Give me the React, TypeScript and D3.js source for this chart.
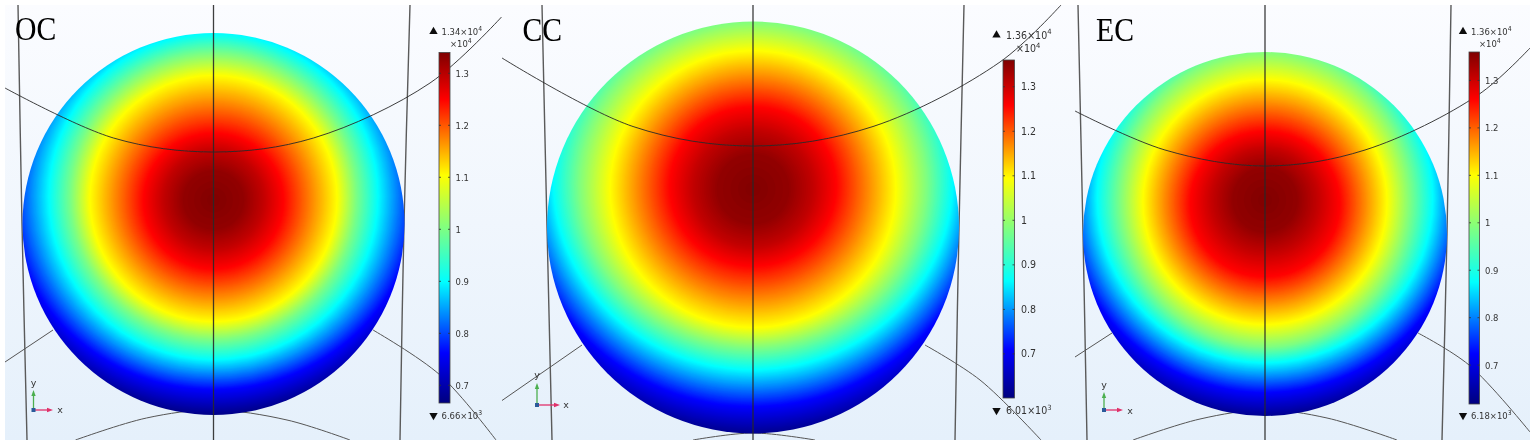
import React from "react";
import * as d3 from "d3";

// Colour map: share of the range -> colour
const mapStops = [0, 0.143, 0.346, 0.5, 0.65, 0.866, 1];
const mapColors = ["#00007f", "#0000ff", "#00ffff", "#80ff80", "#ffff00", "#ff0000", "#7f0000"];
const tickValues = [1.3, 1.2, 1.1, 1, 0.9, 0.8, 0.7];
const tickLabels = ["1.3", "1.2", "1.1", "1", "0.9", "0.8", "0.7"];

// OC: field level contours (value x 1e4) and their centres / half axes, in model units from the sphere centre
const ocLevels = [1.34, 1.328, 1.294, 1.25, 1.104, 1.0, 0.899, 0.762, 0.666];
const ocCentre = [24, 24, 24, 23, 25.5, 27.5, 27.5, 29, 29];
const ocRx = [0, 30, 50, 70, 124, 143, 165, 204, 230];
const ocRy = [0, 29, 49, 68, 123.5, 143.5, 163.5, 195, 222];
// CC
const ccLevels = [1.36, 1.346, 1.308, 1.258, 1.094, 0.98, 0.864, 0.71, 0.601];
const ccCentre = [38.5, 38.5, 39, 41, 38.5, 43, 47.5, 49.5, 49.5];
const ccRx = [0, 36, 60, 83.5, 143.5, 174, 200, 235, 265];
const ccRy = [0, 35, 58, 80, 139, 163.5, 190, 229, 260];
// EC
const ecLevels = [1.36, 1.347, 1.308, 1.26, 1.1, 0.989, 0.875, 0.724, 0.618];
const ecCentre = [34, 34, 33, 30, 32, 35, 36, 37, 37];
const ecRx = [0, 32, 53, 75, 122.5, 145, 168, 200, 230];
const ecRy = [0, 32, 52, 73, 123, 148, 165, 196, 223];

type P = [number, number];
// Mesh edges in model units
const ocBehind: P[][] = [
  [[-195.5, 219], [-191.5, 0], [-186.5, -216]],
  [[196.5, 219], [190.5, 0], [186.5, -216]],
  [[-208.5, -138], [-160.5, -106]],
  [[159.5, -106], [226.5, -151], [282.5, -216]],
  [[-138, -216], [-67, -194], [0, -186], [73.5, -196], [136.5, -216]],
];
const ocFront: P[][] = [
  [[0, 219], [0, -216]],
  [[-208.5, 136], [-100, 86], [0, 72], [100, 86], [216.5, 141], [288, 207]],
];
const ccBehind: P[][] = [
  [[-211, 222.5], [-206, 0], [-201, -212.5]],
  [[211, 222.5], [206, 0], [202, -212.5]],
  [[-251, -173], [-171, -117.5]],
  [[172, -117.5], [227, -152.5], [288, -212.5]],
  [[-60, -212.5], [0, -205.5], [62, -212.5]],
];
const ccFront: P[][] = [
  [[0, 222.5], [0, -212.5]],
  [[-251, 169.5], [-120, 101], [0, 81.5], [120, 101], [247, 165.5], [308, 222.5]],
];
const ecBehind: P[][] = [
  [[-187, 229], [-182, 0], [-178, -206]],
  [[186, 229], [182, 0], [177, -206]],
  [[-190, -123], [-153, -99]],
  [[153, -99], [204, -131], [265, -198]],
  [[-132, -206], [-65, -185], [0, -176], [62, -184], [132, -206]],
];
const ecFront: P[][] = [
  [[0, 229], [0, -206]],
  [[-190, 123], [-100, 84], [0, 68], [100, 84], [213, 139], [265, 186]],
];

const panels = [
  {
    id: "oc", title: "OC", titleX: 15, titleY: 40,
    px: [5, 502], cx: 213.5, cy: 224, r: 191,
    levels: ocLevels, centre: ocCentre, rx: ocRx, ry: ocRy, behind: ocBehind, front: ocFront,
    max: "1.34", min: "6.66", maxV: 1.34, minV: 0.666,
    bar: [439, 450, 52.5, 403], fs: 9.4, tsx: 0.9, topX: 441.5, topY: 35, unitX: 450, unitY: 47, botY: 419, triX: 433.5, labelX: 455.5,
    triad: [33.5, 410, 390, 53], labX: 60, labYy: 386, labXy: 413,
  },
  {
    id: "cc", title: "CC", titleX: 522.5, titleY: 40.5,
    px: [502, 1074], cx: 753, cy: 227.5, r: 206,
    levels: ccLevels, centre: ccCentre, rx: ccRx, ry: ccRy, behind: ccBehind, front: ccFront,
    max: "1.36", min: "6.01", maxV: 1.36, minV: 0.601,
    bar: [1003, 1014.5, 60, 398], fs: 10, tsx: 0.95, topX: 1006, topY: 38.5, unitX: 1016, unitY: 52, botY: 414, triX: 996.5, labelX: 1021,
    triad: [537, 405, 383, 560], labX: 566, labYy: 378, labXy: 408,
  },
  {
    id: "ec", title: "EC", titleX: 1096, titleY: 40.5,
    px: [1074, 1530], cx: 1265, cy: 234, r: 182,
    levels: ecLevels, centre: ecCentre, rx: ecRx, ry: ecRy, behind: ecBehind, front: ecFront,
    max: "1.36", min: "6.18", maxV: 1.36, minV: 0.618,
    bar: [1469, 1479.5, 52, 404], fs: 9.4, tsx: 0.9, topX: 1471, topY: 35, unitX: 1479, unitY: 47, botY: 419, triX: 1463, labelX: 1485,
    triad: [1104, 410, 392, 1123], labX: 1130, labYy: 388, labXy: 414,
  },
];

const colorAt = d3.scaleLinear<string>().domain(mapStops).range(mapColors).interpolate(d3.interpolateRgb);
const panelTop = 5;
const panelBottom = 440;
const bands = 260;
const font = "'DejaVu Sans'";

function Sci({ x, y, fs, sxk, text, exp }: { x: number; y: number; fs: number; sxk: number; text: string; exp: string }) {
  return (
    <text transform={`translate(${x},${y}) scale(${sxk},1)`} fontSize={fs} fontFamily={font} fill="#333">
      {text}
      <tspan dy={-fs * 0.42} fontSize={fs * 0.72}>{exp}</tspan>
    </text>
  );
}

function Panel({ p }: { p: (typeof panels)[number] }) {
  const sx = d3.scaleLinear().domain([-p.r, p.r]).range([p.cx - p.r, p.cx + p.r]);
  const sy = d3.scaleLinear().domain([-p.r, p.r]).range([p.cy + p.r, p.cy - p.r]);
  const line = d3.line<P>().x((d) => sx(d[0])).y((d) => sy(d[1])).curve(d3.curveCatmullRom.alpha(0.5));
  const share = d3.scaleLinear().domain([p.minV, p.maxV]).range([0, 1]).clamp(true);
  const cyAt = d3.scaleLinear().domain(p.levels).range(p.centre);
  const rxAt = d3.scaleLinear().domain(p.levels).range(p.rx);
  const ryAt = d3.scaleLinear().domain(p.levels).range(p.ry);
  const bandValues = d3.range(bands + 1).map((i) => p.minV + ((p.maxV - p.minV) * i) / bands);
  const [bx0, bx1, by0, by1] = p.bar;
  const barY = d3.scaleLinear().domain([p.maxV, p.minV]).range([by0, by1]);
  const [ox, oy, oTop, oRight] = p.triad;
  const tri = d3.symbol().type(d3.symbolTriangle).size(30)();
  return (
    <g>
      <defs>
        <linearGradient id={`bg-${p.id}`} x1="0" x2="0" y1="0" y2="1">
          <stop offset="0" stopColor="#fbfcff" />
          <stop offset="1" stopColor="#e5f0fb" />
        </linearGradient>
        <clipPath id={`panel-${p.id}`}>
          <rect x={p.px[0]} y={panelTop} width={p.px[1] - p.px[0]} height={panelBottom - panelTop} />
        </clipPath>
        <mask id={`sphere-${p.id}`} maskUnits="userSpaceOnUse" x={0} y={0} width={1535} height={445}>
          <circle cx={sx(0)} cy={sy(0)} r={p.r} fill="#fff" />
        </mask>
        <linearGradient id={`bar-${p.id}`} x1="0" x2="0" y1="1" y2="0">
          {mapStops.map((s, i) => (
            <stop key={s} offset={s} stopColor={mapColors[i]} />
          ))}
        </linearGradient>
      </defs>
      <rect x={p.px[0]} y={panelTop} width={p.px[1] - p.px[0]} height={panelBottom - panelTop} fill={`url(#bg-${p.id})`} />
      <g clipPath={`url(#panel-${p.id})`} fill="none">
        <g filter="url(#soft)">
          {p.behind.map((w, i) => (
            <path key={i} d={line(w)!} stroke={i < 2 ? "#5a5a5a" : "#555"} strokeWidth={i < 2 ? 1.4 : 1} />
          ))}
        </g>
        <g mask={`url(#sphere-${p.id})`} stroke="none">
          <rect x={sx(-p.r)} y={sy(p.r)} width={2 * p.r} height={2 * p.r} fill={colorAt(0)} />
          {bandValues.map((v) => (
            <ellipse key={v} cx={sx(0)} cy={sy(cyAt(v))} rx={rxAt(v)} ry={ryAt(v)} fill={colorAt(share(v))} />
          ))}
        </g>
        <g filter="url(#soft)">
          {p.front.map((w, i) => (
            <path key={i} d={line(w)!} stroke="#2a2a2a" strokeWidth={i === 0 ? 1.3 : 1} opacity={0.9} />
          ))}
        </g>
      </g>
      <rect x={bx0} y={by0} width={bx1 - bx0} height={by1 - by0} fill={`url(#bar-${p.id})`} stroke="#444" strokeWidth={0.8} />
      <g filter="url(#soft)">
        {tickValues.map((t, i) => (
          <g key={t}>
            <path d={`M${bx0},${barY(t)}h2M${bx1},${barY(t)}h-2`} stroke="#333" strokeWidth={0.8} />
            <text transform={`translate(${p.labelX},${barY(t) + 3.5}) scale(${p.tsx},1)`} fontSize={p.fs} fontFamily={font} fill="#333">{tickLabels[i]}</text>
          </g>
        ))}
        <path d={tri!} transform={`translate(${p.triX},${p.topY - 3.5})`} fill="#111" />
        <Sci x={p.topX} y={p.topY} fs={p.fs} sxk={p.tsx} text={`${p.max}×10`} exp="4" />
        <Sci x={p.unitX} y={p.unitY} fs={p.fs} sxk={p.tsx} text="×10" exp="4" />
        <path d={tri!} transform={`translate(${p.triX},${p.botY - 3.5}) rotate(180)`} fill="#111" />
        <Sci x={p.topX} y={p.botY} fs={p.fs} sxk={p.tsx} text={`${p.min}×10`} exp="3" />
        {/* coordinate triad */}
        <path d={`M${ox},${oy}V${oTop + 5}`} stroke="#4caf50" strokeWidth={1.3} />
        <path d={`M${ox},${oTop}l-2.2,6h4.4z`} fill="#4caf50" />
        <path d={`M${ox},${oy}H${oRight - 5}`} stroke="#e0306a" strokeWidth={1.3} />
        <path d={`M${oRight},${oy}l-6,-2.2v4.4z`} fill="#e0306a" />
        <rect x={ox - 2} y={oy - 2} width={4} height={4} fill="#2a5a9a" />
        <text x={ox} y={p.labYy} fontSize={9.5} textAnchor="middle" fontFamily={font} fill="#333">y</text>
        <text x={p.labX} y={p.labXy} fontSize={9.5} textAnchor="middle" fontFamily={font} fill="#333">x</text>
      </g>
      <text transform={`translate(${p.titleX},${p.titleY}) scale(0.9,1)`} fontSize={33} fontFamily="'Liberation Serif'" fill="#000">{p.title}</text>
    </g>
  );
}

export default function App() {
  return (
    <svg width={1535} height={445} style={{ position: "absolute", left: 0, top: 0, display: "block", background: "#fff" }}>
      <defs>
        <filter id="soft" x="0" y="0" width="1535" height="445" filterUnits="userSpaceOnUse" primitiveUnits="userSpaceOnUse">
          <feGaussianBlur stdDeviation="0.3" />
        </filter>
      </defs>
      {panels.map((p) => (
        <Panel key={p.id} p={p} />
      ))}
    </svg>
  );
}
